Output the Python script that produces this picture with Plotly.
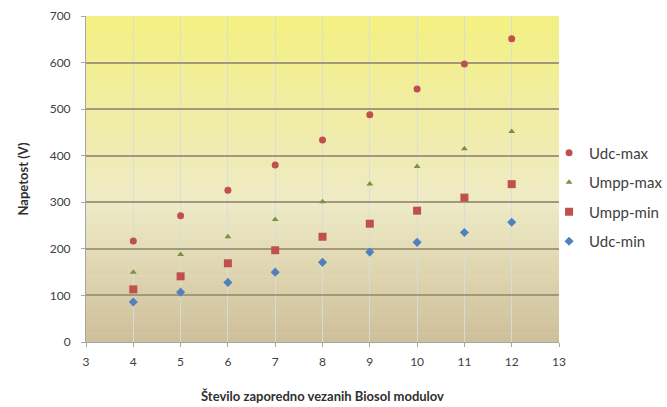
import plotly.graph_objects as go

moduli = [4, 5, 6, 7, 8, 9, 10, 11, 12]
udc_max = [217, 271, 326, 380, 434, 488, 543, 597, 651]
umpp_max = [150, 188, 226, 263, 301, 339, 377, 415, 452]
umpp_min = [113, 141, 169, 197, 226, 254, 282, 310, 339]
udc_min = [86, 107, 128, 150, 171, 193, 214, 235, 257]

x_ticks = list(range(3, 14))
y_ticks = list(range(0, 701, 100))

fig = go.Figure()

series = [
    ("Udc-max", udc_max, "circle", "#C0504D", 7),
    ("Umpp-max", umpp_max, "triangle-up", "#77933C", 6),
    ("Umpp-min", umpp_min, "square", "#C0504D", 8),
    ("Udc-min", udc_min, "diamond", "#4F81BD", 7),
]
for name, vals, sym, col, sz in series:
    fig.add_trace(go.Scatter(
        x=moduli, y=vals, mode="markers", name=name, legendgroup=name,
        marker=dict(symbol=sym, color=col, size=sz, line=dict(width=0)),
    ))

# gradient background (bottom tan -> pale cream -> top yellow)
stops = [(0.0, (0xCE, 0xBF, 0x99)), (0.42, (0xEE, 0xEA, 0xC6)), (1.0, (0xF4, 0xF0, 0x82))]
def col_at(t):
    for (t0, c0), (t1, c1) in zip(stops[:-1], stops[1:]):
        if t0 <= t <= t1:
            f = (t - t0) / (t1 - t0)
            return "rgb(%d,%d,%d)" % tuple(round(a + (b - a) * f) for a, b in zip(c0, c1))
    return "rgb(%d,%d,%d)" % stops[-1][1]

n = 80
shapes = []
for i in range(n):
    t0 = i / n
    t1 = (i + 1) / n
    shapes.append(dict(type="rect", xref="x domain", yref="y domain",
                       x0=0, x1=1, y0=t0, y1=min(1, t1 + 0.002), layer="below",
                       line=dict(width=0), fillcolor=col_at((t0 + t1) / 2)))

fig.update_layout(
    width=667, height=407,
    margin=dict(l=86, r=108, t=16, b=65, autoexpand=False),
    paper_bgcolor="white",
    plot_bgcolor="rgba(0,0,0,0)",
    shapes=shapes,
    font=dict(family="Lato, Open Sans, sans-serif", size=12, color="#404040"),
    legend=dict(x=0.979, y=0.445, xanchor="left", yanchor="middle",
                font=dict(size=15, color="#404040"), tracegroupgap=7,
                itemsizing="trace", itemwidth=30, bgcolor="rgba(0,0,0,0)"),
    xaxis=dict(range=[3, 13], tickvals=x_ticks, ticktext=[str(v) for v in x_ticks],
               showgrid=True, gridcolor="rgba(215,222,215,0.9)", gridwidth=1,
               showline=True, linecolor="#A6A6A6", linewidth=1,
               ticks="outside", ticklen=4, tickcolor="#A6A6A6",
               ticklabelstandoff=5,
               zeroline=False, layer="below traces", automargin=False,
               title=dict(text="<b>Število zaporedno vezanih Biosol modulov</b>",
                          font=dict(size=13, color="#303030"), standoff=23)),
    yaxis=dict(range=[0, 700], tickvals=y_ticks, ticktext=[str(v) for v in y_ticks],
               showgrid=True, gridcolor="#A2987E", gridwidth=1.5,
               showline=True, linecolor="#A6A6A6", linewidth=1,
               ticks="outside", ticklen=4, tickcolor="#A6A6A6",
               ticklabelstandoff=8,
               zeroline=False, layer="below traces", automargin=False,
               title=dict(text="<b>Napetost (V)</b>",
                          font=dict(size=13, color="#303030"), standoff=18)),
)

fig.write_html("out.html", config={"displayModeBar": False},
               post_script="document.body.style.margin='0';")
